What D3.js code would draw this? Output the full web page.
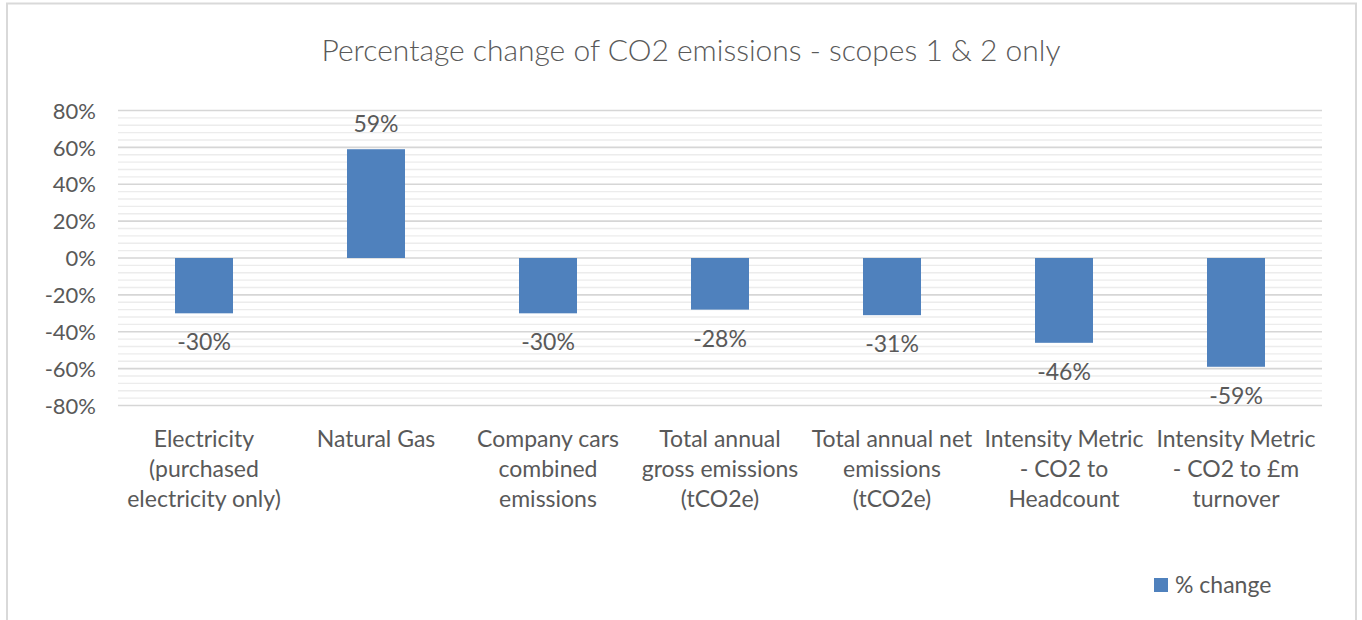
<!DOCTYPE html>
<html><head><meta charset="utf-8">
<script src="https://cdn.jsdelivr.net/npm/d3@7"></script>
<style>body{margin:0;background:#fff;} svg{display:block;}</style>
</head><body>
<svg id="c" width="1362" height="620"></svg>
<script>
const categories = [
  ["Electricity", "(purchased", "electricity only)"],
  ["Natural Gas"],
  ["Company cars", "combined", "emissions"],
  ["Total annual", "gross emissions", "(tCO2e)"],
  ["Total annual net", "emissions", "(tCO2e)"],
  ["Intensity Metric", "- CO2 to", "Headcount"],
  ["Intensity Metric", "- CO2 to £m", "turnover"]
];
const values = [-30, 59, -30, -28, -31, -46, -59];
const labels = ["-30%", "59%", "-30%", "-28%", "-31%", "-46%", "-59%"];
const tickValues = [-80, -60, -40, -20, 0, 20, 40, 60, 80];
const seriesName = "% change";
const title = "Percentage change of CO2 emissions - scopes 1 & 2 only";

const svg = d3.select("#c");
const font = "Lato, 'Open Sans', sans-serif";
const textColor = "#595959";

// frame
svg.append("rect").attr("x", 7).attr("y", 3.5).attr("width", 1349).attr("height", 630)
  .attr("fill", "#fff").attr("stroke", "#d9d9d9").attr("stroke-width", 2);

const xc = d3.scaleBand().domain(d3.range(values.length)).range([118, 1322]);
const y = d3.scaleLinear().domain([-80, 80]).range([405.5, 110.5]);

// minor gridlines
const minor = d3.range(-80, 81, 4).filter(v => v % 20 !== 0);
svg.append("g").selectAll("line").data(minor).join("line")
  .attr("x1", 118).attr("x2", 1322).attr("y1", d => y(d)).attr("y2", d => y(d))
  .attr("stroke", "#ececec").attr("stroke-width", 1.3);
// major gridlines
svg.append("g").selectAll("line").data(tickValues).join("line")
  .attr("x1", 118).attr("x2", 1322).attr("y1", d => y(d)).attr("y2", d => y(d))
  .attr("stroke", "#d6d6d6").attr("stroke-width", 1.6);

// y axis labels
const yAxis = d3.axisLeft(y).tickValues(tickValues).tickFormat(d => d + "%").tickSize(0).tickPadding(0);
const ya = svg.append("g").attr("transform", "translate(96,0)").call(yAxis);
ya.select(".domain").remove();
ya.selectAll("text").attr("font-family", font).attr("font-size", 22).attr("fill", textColor).attr("dy", "0.35em");

// bars
svg.append("g").selectAll("rect").data(values).join("rect")
  .attr("x", (d, i) => xc(i) + xc.bandwidth() / 2 - 29)
  .attr("width", 58)
  .attr("y", d => y(Math.max(0, d)))
  .attr("height", d => Math.abs(y(d) - y(0)))
  .attr("fill", "#4f81bd");

// data labels
svg.append("g").selectAll("text").data(values).join("text")
  .attr("x", (d, i) => xc(i) + xc.bandwidth() / 2)
  .attr("y", d => d >= 0 ? y(d) - 25 : y(d) + 29)
  .attr("dy", "0.35em")
  .attr("text-anchor", "middle")
  .attr("font-family", font).attr("font-size", 23).attr("fill", textColor)
  .text((d, i) => labels[i]);

// category labels
const cg = svg.append("g");
categories.forEach((lines, i) => {
  lines.forEach((ln, j) => {
    cg.append("text")
      .attr("x", xc(i) + xc.bandwidth() / 2)
      .attr("y", 439 + j * 30)
      .attr("dy", "0.35em")
      .attr("text-anchor", "middle")
      .attr("font-family", font).attr("font-size", 23).attr("fill", textColor)
      .text(ln);
  });
});

// title
svg.append("text").attr("x", 691).attr("y", 50).attr("dy", "0.35em")
  .attr("text-anchor", "middle")
  .attr("font-family", font).attr("font-weight", 300).attr("font-size", 30).attr("fill", textColor)
  .text(title);

// legend
svg.append("rect").attr("x", 1154).attr("y", 578).attr("width", 14).attr("height", 14).attr("fill", "#4f81bd");
svg.append("text").attr("x", 1175).attr("y", 585).attr("dy", "0.35em")
  .attr("font-family", font).attr("font-size", 23).attr("fill", textColor).text(seriesName);
</script>
</body></html>
